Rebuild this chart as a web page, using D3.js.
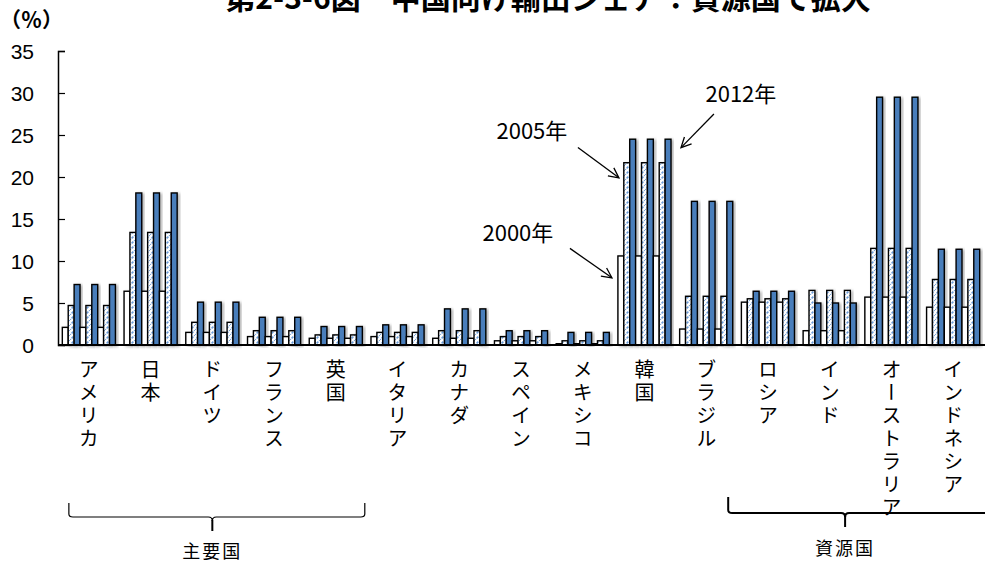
<!DOCTYPE html>
<html><head><meta charset="utf-8">
<script src="https://cdn.jsdelivr.net/npm/d3@7"></script>
<style>
body{margin:0;background:#fff}
svg{display:block}
text{font-family:"Noto Sans CJK JP","Noto Sans",sans-serif;fill:#000}
</style>
</head><body>
<script>
// China-bound export share by partner country (%)
const categories = ["アメリカ","日本","ドイツ","フランス","英国","イタリア","カナダ","スペイン","メキシコ","韓国","ブラジル","ロシア","インド","オーストラリア","インドネシア"];
const share2000 = [2.1, 6.4, 1.5, 1.0, 0.8, 1.0, 0.8, 0.5, 0.2, 10.6, 1.9, 5.1, 1.7, 5.7, 4.5];
const share2005 = [4.7, 13.4, 2.7, 1.7, 1.2, 1.5, 1.7, 1.0, 0.5, 21.7, 5.8, 5.5, 6.5, 11.5, 7.8];
const share2012 = [7.2, 18.1, 5.1, 3.3, 2.2, 2.4, 4.3, 1.7, 1.5, 24.5, 17.1, 6.4, 5.0, 29.5, 11.4];
const seriesNames = ["2000年", "2005年", "2012年"];
const copies = [0, 1, 2];               // the year triplet is drawn three times per country
const yTicks = [0, 5, 10, 15, 20, 25, 30, 35];
const groups = [
  {name: "主要国", from: "アメリカ", to: "英国"},
  {name: "資源国", from: "ブラジル", to: "インドネシア"}
];

const W = 985, H = 563;
const svg = d3.select("body").append("svg").attr("width", W).attr("height", H);

const defs = svg.append("defs");
const pat = defs.append("pattern").attr("id", "hatch")
  .attr("patternUnits", "userSpaceOnUse").attr("width", 5).attr("height", 5);
pat.append("rect").attr("width", 5).attr("height", 5).attr("fill", "#fff");
pat.append("path").attr("d", "M-1,6 L6,-1").attr("stroke", "#6d9eda")
  .attr("stroke-width", 1.6).attr("stroke-dasharray", "2.5,1.2");
const shadow = defs.append("filter").attr("id", "shadow")
  .attr("x", "-50%").attr("y", "-10%").attr("width", "200%").attr("height", "120%");
shadow.append("feDropShadow").attr("dx", 2).attr("dy", 1).attr("stdDeviation", 1.6)
  .attr("flood-color", "#000").attr("flood-opacity", 0.3);

const plotLeft = 58, plotRight = 984, plotTop = 51, plotBottom = 345;

const x = d3.scaleBand().domain(categories).range([plotLeft, plotRight])
  .paddingInner(0.14).paddingOuter(0.07);
const slots = d3.cross(copies, d3.range(seriesNames.length)).map(([c, s]) => c * 3 + s);
const xSub = d3.scaleBand().domain(slots).range([0, x.bandwidth()]);
const y = d3.scaleLinear().domain([0, 35]).range([plotBottom, plotTop]);

const values = [share2000, share2005, share2012];
const fills = ["#ffffff", "url(#hatch)", "#4a7ebb"];

// Title (runs off the top edge of the page)
svg.append("text").attr("x", 548).attr("y", 9).attr("text-anchor", "middle")
  .attr("font-size", 30).attr("font-weight", "bold")
  .text("第2-3-6図　中国向け輸出シェア：資源国で拡大");

// Unit label
svg.append("text").attr("x", 0).attr("y", 27).attr("font-size", 21).attr("font-weight", "bold")
  .text("（％）");

// Bars
const barData = [];
categories.forEach((c, i) => {
  copies.forEach(k => {
    values.forEach((arr, s) => barData.push({c, v: arr[i], s, slot: k * 3 + s}));
  });
});
svg.append("g").selectAll("rect").data(barData).join("rect")
  .attr("x", d => x(d.c) + xSub(d.slot))
  .attr("y", d => y(d.v))
  .attr("width", xSub.bandwidth())
  .attr("height", d => y(0) - y(d.v))
  .attr("fill", d => fills[d.s])
  .attr("stroke", "#000").attr("stroke-width", 1.4)
  .attr("filter", "url(#shadow)");

// Y axis with inside ticks
const yAxis = d3.axisLeft(y).tickValues(yTicks).tickSize(-7).tickPadding(24);
const gy = svg.append("g").attr("transform", `translate(${plotLeft},0)`).call(yAxis);
gy.select(".domain").attr("stroke", "#000").attr("stroke-width", 1.5);
gy.selectAll(".tick line").attr("stroke", "#000").attr("stroke-width", 1.2);
gy.selectAll(".tick text").attr("font-size", 21)
  .style("font-family", "'Liberation Sans', Arial, sans-serif").attr("dy", "0.35em");

// Baseline
svg.append("line").attr("x1", plotLeft).attr("x2", W).attr("y1", y(0)).attr("y2", y(0))
  .attr("stroke", "#000").attr("stroke-width", 2);

// Country labels, set vertically
svg.append("g").selectAll("text").data(categories).join("text")
  .attr("x", d => x(d) + x.bandwidth() / 2)
  .attr("y", 359)
  .attr("font-size", 20)
  .style("writing-mode", "vertical-rl")
  .style("letter-spacing", "3px")
  .text(d => d);

// Group braces
const braceSpec = [
  {x1: c => x(c) + x.bandwidth() / 2 - 20, x2: c => x(c) + x.bandwidth() / 2 + 29, midAt: 2.5, yb: 517, hook: 14, sw: 1.2, ty: 558},
  {x1: c => x(c) + x.bandwidth() / 2 + 22, x2: () => W + 5, midAt: 2.75, yb: 513, hook: 16, sw: 2, ty: 555}
];
groups.forEach((g, i) => {
  const s = braceSpec[i];
  const x1 = s.x1(g.from), x2 = s.x2(g.to);
  const mid = x(g.from) - x.step() * 0.07 + x.step() * s.midAt;
  const yb = s.yb;
  const p = d3.path();
  p.moveTo(x1, yb - s.hook);
  p.lineTo(x1, yb - 3);
  p.quadraticCurveTo(x1, yb, x1 + 4, yb);
  p.lineTo(mid - 4, yb);
  p.quadraticCurveTo(mid, yb, mid, yb + 4);
  p.moveTo(mid, yb + 4);
  p.quadraticCurveTo(mid, yb, mid + 4, yb);
  p.lineTo(x2 - 4, yb);
  p.quadraticCurveTo(x2, yb, x2, yb - 3);
  p.lineTo(x2, yb - s.hook);
  svg.append("path").attr("d", p.toString()).attr("fill", "none")
    .attr("stroke", "#000").attr("stroke-width", s.sw);
  svg.append("line").attr("x1", mid).attr("x2", mid).attr("y1", yb + 3).attr("y2", yb + 14)
    .attr("stroke", "#000").attr("stroke-width", 2);
  svg.append("text").attr("x", mid).attr("y", s.ty).attr("text-anchor", "middle")
    .attr("font-size", 18).style("letter-spacing", "2px").text(g.name);
});

// Year call-outs on the 韓国 bars
const kx = x("韓国"), kw = x.bandwidth();
const notes = [
  {label: seriesNames[0], tx: kx - 100, ty: 241, from: [kx - 48, y(11.5)], to: [kx - 6, y(8.0)]},
  {label: seriesNames[1], tx: kx - 86, ty: 139, from: [kx - 40, y(23.5)], to: [kx + 1, y(19.9)]},
  {label: seriesNames[2], tx: kx + 123, ty: 102, from: [kx + 96, y(27.5)], to: [kx + kw + 10, y(23.5)]}
];
defs.append("marker").attr("id", "arrow").attr("viewBox", "0 0 12 12")
  .attr("refX", 11).attr("refY", 6).attr("markerWidth", 12).attr("markerHeight", 12)
  .attr("markerUnits", "userSpaceOnUse").attr("orient", "auto")
  .append("path").attr("d", "M1,1 L11,6 L1,11").attr("fill", "none")
  .attr("stroke", "#000").attr("stroke-width", 1.3);
notes.forEach(n => {
  svg.append("line").attr("x1", n.from[0]).attr("y1", n.from[1])
    .attr("x2", n.to[0]).attr("y2", n.to[1])
    .attr("stroke", "#000").attr("stroke-width", 1.3).attr("marker-end", "url(#arrow)");
  svg.append("text").attr("x", n.tx).attr("y", n.ty).attr("text-anchor", "middle")
    .attr("font-size", 22).text(n.label);
});
</script>
</body></html>
